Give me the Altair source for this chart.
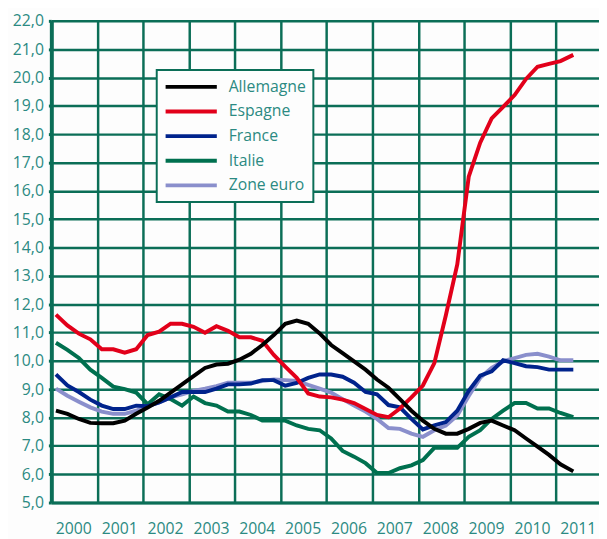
import altair as alt
import pandas as pd

# Quarterly positions (decimal years)
t = [2000.1, 2000.35, 2000.6, 2000.85, 2001.1, 2001.35, 2001.6, 2001.85,
     2002.1, 2002.35, 2002.6, 2002.85, 2003.1, 2003.35, 2003.6, 2003.85,
     2004.1, 2004.35, 2004.6, 2004.85, 2005.1, 2005.35, 2005.6, 2005.85,
     2006.1, 2006.35, 2006.6, 2006.85, 2007.1, 2007.35, 2007.6, 2007.85,
     2008.1, 2008.35, 2008.6, 2008.85, 2009.1, 2009.35, 2009.6, 2009.85,
     2010.1, 2010.35, 2010.6, 2010.85, 2011.1, 2011.38]

allemagne = [8.24, 8.13, 7.95, 7.81, 7.8, 7.8, 7.89, 8.13, 8.35, 8.59, 8.88, 9.17,
             9.46, 9.75, 9.87, 9.9, 10.04, 10.25, 10.56, 10.91, 11.31, 11.42, 11.31, 10.97,
             10.56, 10.27, 9.98, 9.69, 9.34, 9.05, 8.65, 8.24, 7.89, 7.6, 7.43, 7.43,
             7.6, 7.81, 7.89, 7.72, 7.55, 7.26, 6.97, 6.68, 6.35, 6.1]
espagne = [11.63, 11.25, 10.96, 10.76, 10.41, 10.41, 10.29, 10.41, 10.91, 11.03, 11.31, 11.31,
           11.2, 10.99, 11.22, 11.06, 10.83, 10.83, 10.71, 10.21, 9.8, 9.4, 8.85, 8.74,
           8.71, 8.63, 8.51, 8.3, 8.09, 8.01, 8.32, 8.71, 9.13, 9.92, 11.6, 13.4,
           16.5, 17.7, 18.56, 18.96, 19.38, 19.95, 20.38, 20.48, 20.58, 20.8]
france = [9.52, 9.13, 8.9, 8.63, 8.42, 8.3, 8.3, 8.42, 8.4, 8.53, 8.71, 8.9,
          8.9, 8.9, 9.02, 9.17, 9.17, 9.2, 9.32, 9.32, 9.12, 9.22, 9.4, 9.52,
          9.52, 9.44, 9.23, 8.9, 8.82, 8.44, 8.36, 7.95, 7.58, 7.72, 7.84, 8.24,
          8.94, 9.48, 9.63, 10.02, 9.92, 9.81, 9.78, 9.69, 9.69, 9.69]
italie = [10.64, 10.39, 10.1, 9.69, 9.4, 9.09, 9.0, 8.88, 8.47, 8.82, 8.65, 8.42,
          8.74, 8.51, 8.42, 8.21, 8.21, 8.09, 7.89, 7.89, 7.89, 7.72, 7.6, 7.55,
          7.26, 6.82, 6.62, 6.39, 6.04, 6.04, 6.21, 6.31, 6.5, 6.93, 6.93, 6.93,
          7.32, 7.55, 7.95, 8.24, 8.51, 8.51, 8.32, 8.32, 8.16, 8.01]
zone_euro = [9.02, 8.77, 8.56, 8.36, 8.21, 8.13, 8.13, 8.24, 8.42, 8.53, 8.71, 8.82,
             8.94, 9.02, 9.11, 9.23, 9.23, 9.23, 9.29, 9.34, 9.32, 9.29, 9.15, 9.02,
             8.88, 8.65, 8.42, 8.21, 7.95, 7.63, 7.6, 7.43, 7.32, 7.55, 7.72, 8.07,
             8.76, 9.4, 9.75, 9.98, 10.1, 10.21, 10.25, 10.15, 10.02, 10.02]

series_names = ["Allemagne", "Espagne", "France", "Italie", "Zone euro"]
series_colors = ["#000000", "#e2001a", "#00238c", "#00704f", "#8a8fcc"]
draw_order = ["Zone euro", "Italie", "France", "Espagne", "Allemagne"]
year_ticks = list(range(2000, 2012))
y_ticks = list(range(5, 23))

values = {"Allemagne": allemagne, "Espagne": espagne, "France": france,
          "Italie": italie, "Zone euro": zone_euro}
rows = []
for name in series_names:
    for x, v in zip(t, values[name]):
        rows.append({"annee": x, "taux": v, "pays": name})
df = pd.DataFrame(rows)

GREEN = "#0b6e57"
TEXT = "#2b8a82"
FONT = "Open Sans"

x_enc = alt.X("annee:Q",
              scale=alt.Scale(domain=[2000, 2011.94], nice=False, zero=False),
              axis=alt.Axis(values=year_ticks, format="d", title=None, grid=True,
                            gridColor=GREEN, gridWidth=2.5, gridOpacity=1,
                            domainColor=GREEN, domainWidth=3, ticks=False,
                            labelAlign="left", labelOffset=4, labelPadding=18,
                            labelColor=TEXT, labelFont=FONT, labelFontSize=16,
                            labelFlush=False, labelOverlap=False))
y_enc = alt.Y("taux:Q",
              scale=alt.Scale(domain=[5, 22], nice=False, zero=False),
              axis=alt.Axis(values=y_ticks, title=None, grid=True,
                            gridColor=GREEN, gridWidth=2.5, gridOpacity=1,
                            domainColor=GREEN, domainWidth=4,
                            ticks=True, tickColor=GREEN, tickWidth=3, tickSize=3,
                            labelExpr="replace(format(datum.value, '.1f'), '.', ',')",
                            labelPadding=5, labelColor=TEXT, labelFont=FONT,
                            labelFontSize=16, labelFlush=False, labelOverlap=False))

legend = alt.Legend(title=None, orient="none", legendX=107, legendY=50,
                    fillColor="#fdfdfd", strokeColor=GREEN,
                    padding=7, symbolType="stroke", symbolSize=2704,
                    symbolStrokeWidth=4, clipHeight=20, rowPadding=5,
                    labelOffset=10, labelFont=FONT, labelFontSize=16,
                    labelColor=TEXT)
color_enc = alt.Color("pays:N",
                      scale=alt.Scale(domain=series_names, range=series_colors),
                      legend=legend)

layers = []
for name in draw_order:
    layers.append(
        alt.Chart(df)
        .transform_filter(alt.datum.pays == name)
        .mark_line(strokeWidth=4)
        .encode(x=x_enc, y=y_enc, color=color_enc)
    )

chart = (
    alt.layer(*layers)
    .properties(width=556, height=489,
                padding={"left": 4, "top": 1, "right": 0, "bottom": 0},
                background="#fdfdfd")
    .configure_view(strokeWidth=0)
    .configure_legend(strokeWidth=2)
)

chart.save("out.html", embed_options={"renderer": "svg", "actions": False})
